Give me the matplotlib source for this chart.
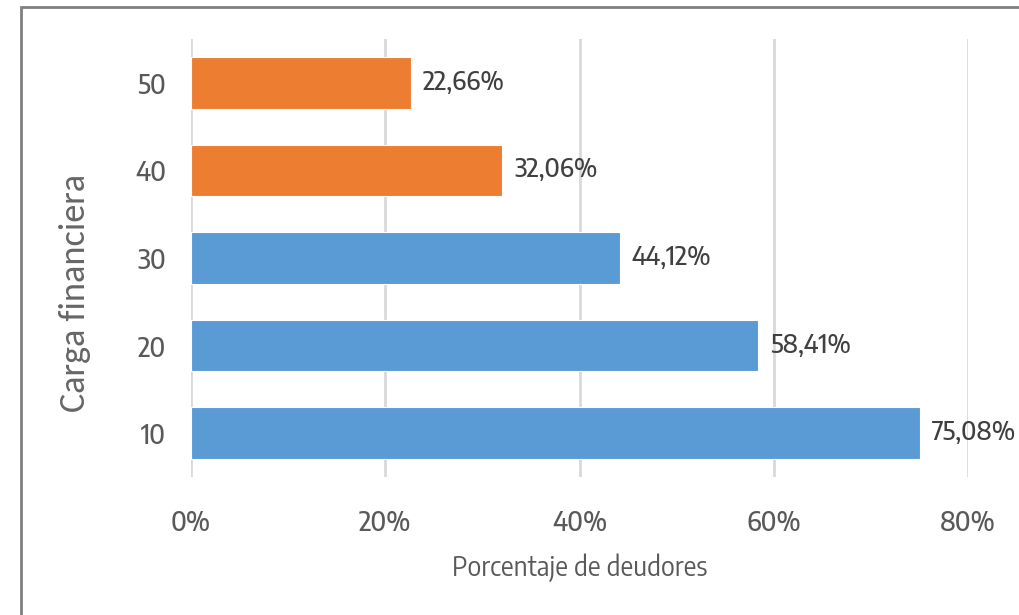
import matplotlib.pyplot as plt
from matplotlib.patches import Rectangle
from matplotlib.ticker import FuncFormatter

# datos
cargas = ['10', '20', '30', '40', '50']
porcentajes = [75.08, 58.41, 44.12, 32.06, 22.66]
colores = ['#5B9BD5', '#5B9BD5', '#5B9BD5', '#ED7D31', '#ED7D31']
ticks_x = [0, 20, 40, 60, 80]

plt.rcParams['font.family'] = ['Encode Sans Semi Condensed', 'Liberation Sans', 'DejaVu Sans']
plt.rcParams['font.weight'] = 'medium'

fig = plt.figure(figsize=(10.19, 6.15), dpi=100)
ax = fig.add_axes([0.1874, 0.2244, 0.7626, 0.7122])

ax.barh(range(len(cargas)), porcentajes, height=0.59, color=colores,
        edgecolor='white', linewidth=0.8, zorder=3)

for i, v in enumerate(porcentajes):
    ax.annotate('{:.2f}%'.format(v).replace('.', ','), (v, i),
                xytext=(12, 0), textcoords='offset pixels',
                va='center', ha='left', fontsize=18.5, color='#404040', zorder=4)

ax.set_xlim(0, 80)
ax.set_ylim(-0.5, 4.5)
ax.set_xticks(ticks_x)
ax.xaxis.set_major_formatter(FuncFormatter(lambda x, p: '{:.0f}%'.format(x)))
ax.set_yticks(range(len(cargas)))
ax.set_yticklabels(cargas)
ax.grid(axis='x', color='#D9D9D9', linewidth=2, zorder=0)
ax.tick_params(axis='x', length=0, pad=23, labelsize=19, labelcolor='#595959')
ax.tick_params(axis='y', length=0, pad=18, labelsize=19, labelcolor='#595959')
for s in ax.spines.values():
    s.set_visible(False)

ax.set_xlabel('Porcentaje de deudores', fontsize=19, color='#595959', labelpad=12)
fig.text(75 / 1019, 1 - 293 / 615, 'Carga financiera', rotation=90,
         ha='center', va='center', fontsize=26, color='#666666',
         family=['Carlito', 'DejaVu Sans'], fontweight='normal')

# marco del grafico
fig.patches.append(Rectangle((21 / 1019, -0.1), 1.2, 1 - 7 / 615 + 0.1,
                             transform=fig.transFigure, fill=False,
                             edgecolor='#808080', linewidth=2))

fig.savefig('out.png', dpi=100)
